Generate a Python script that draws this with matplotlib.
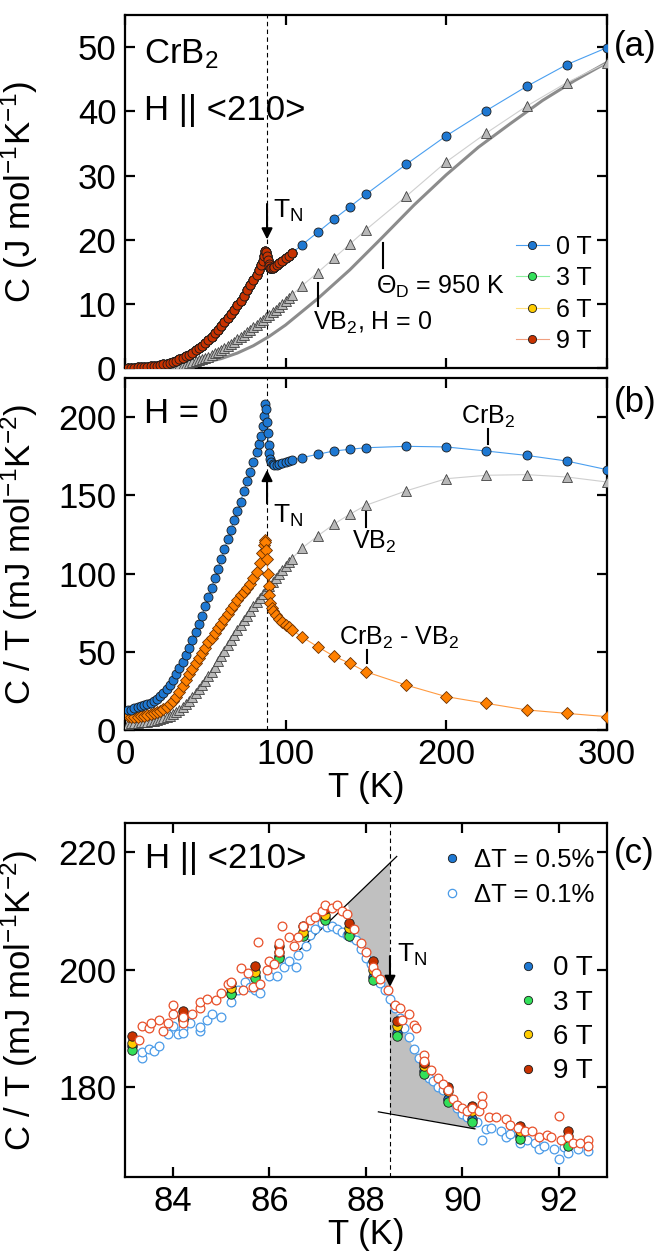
import numpy as np
import matplotlib
matplotlib.use("Agg")
import matplotlib.pyplot as plt
from matplotlib.lines import Line2D

plt.rcParams["font.family"] = ["Liberation Sans", "DejaVu Sans"]
plt.rcParams["mathtext.fontset"] = "custom"
plt.rcParams["mathtext.rm"] = "Liberation Sans"
plt.rcParams["mathtext.it"] = "Liberation Sans:italic"
plt.rcParams["mathtext.bf"] = "Liberation Sans:bold"

# ---- panel (b) data: C/T in mJ mol^-1 K^-2, H = 0 ----
T_cr = np.array([2, 4, 6, 8, 10, 12, 14, 16, 18, 20,
                 22, 24, 26, 28, 30, 32, 34, 36, 38, 40,
                 42, 44, 46, 48, 50, 52, 54, 56, 58, 60,
                 62, 64, 66, 68, 70, 72, 74, 76, 78, 80,
                 82, 83.5, 85, 86, 86.8, 87.4, 87.9, 88.5, 88.9, 89.5,
                 89.9, 90.4, 91, 92, 93, 94.5, 96, 98, 100, 102,
                 104, 110, 120, 130, 140, 150, 175, 200, 225, 250,
                 275, 300])
CT_cr = np.array([12.5, 13, 13.8, 14.5, 15.2, 15.8, 16.5, 17.3, 18.3, 19.8,
                  21.5, 23.5, 26, 29, 32, 35.5, 39.5, 43.5, 48, 52.5,
                  57.5, 62.5, 67.5, 73, 79, 85, 91, 97, 103, 109,
                  115.5, 122, 128, 134, 140, 146, 152.5, 159, 165, 171,
                  177.5, 182.5, 188, 194, 201, 208.5, 205, 197, 190, 182,
                  177, 173, 171, 170, 169.6, 169.5, 170, 170.5, 171, 171.8,
                  172.3, 174, 176.2, 178.3, 179.4, 180.4, 181.3, 180.9, 178.3, 175.5,
                  171.9, 166.4])

T_vb = np.array([2, 4, 6, 8, 10, 12, 14, 16, 18, 20,
                 22, 24, 26, 28, 30, 32, 34, 36, 38, 40,
                 42, 44, 46, 48, 50, 52, 54, 56, 58, 60,
                 62, 64, 66, 68, 70, 72, 74, 76, 78, 80,
                 82, 84, 86, 88, 90, 92, 94, 96, 98, 100,
                 102, 104, 110, 120, 130, 140, 150, 175, 200, 225,
                 250, 275, 300])
CT_vb = np.array([4.0, 4.2, 4.4, 4.6, 4.8, 5.0, 5.3, 5.6, 6.0, 6.4,
                  6.9, 7.4, 8.1, 9.0, 10.0, 11.3, 12.8, 14.5, 16.5, 18.7,
                  21.0, 23.5, 26.0, 28.8, 31.5, 34.3, 37.2, 40.5, 43.8, 47.0,
                  50.5, 54.0, 57.3, 60.5, 63.7, 67.0, 70.0, 73.0, 76.0, 79.0,
                  82.0, 84.5, 87.0, 89.5, 92.0, 94.5, 97.0, 99.8, 102.5, 105.0,
                  107.5, 109.5, 116.0, 124.0, 131.5, 137.9, 143.6, 152.8, 160.6, 162.8,
                  163.2, 161.7, 158.5])

T_diff = np.array([2, 4, 6, 8, 10, 12, 14, 16, 18, 20,
                   22, 24, 26, 28, 30, 32, 34, 36, 38, 40,
                   42, 44, 46, 48, 50, 52, 54, 56, 58, 60,
                   62, 64, 66, 68, 70, 72, 74, 76, 78, 80,
                   82, 84, 85.5, 86.3, 87.0, 87.5, 88.0, 88.5, 89.0, 89.5,
                   90.0, 90.6, 91.5, 92.5, 94, 96, 98, 100, 102, 104,
                   110, 120, 130, 140, 150, 175, 200, 225, 250, 275,
                   300])
CT_diff = np.array([9.0, 8.5, 8.3, 8.5, 8.8, 9.2, 9.6, 10.1, 10.7, 11.5,
                    12.4, 13.5, 14.9, 16.5, 18.5, 21.0, 24.5, 28.3, 32.0, 35.5,
                    39.0, 42.5, 46.0, 49.5, 52.5, 56.0, 59.0, 62.0, 65.0, 68.0,
                    71.0, 74.0, 77.0, 80.0, 83.0, 86.0, 88.5, 91.0, 93.5, 97.0,
                    101.0, 107.0, 113.0, 118.0, 121.5, 120.0, 115.0, 109.0, 100.0, 92.0,
                    86.0, 81.0, 78.0, 76.0, 73.5, 71.0, 69.0, 67.3, 65.5, 64.0,
                    59.6, 53.2, 47.2, 42.6, 37.2, 28.7, 21.3, 17.0, 12.8, 10.6,
                    8.5])

# ---- panel (a): C in J mol^-1 K^-1 (same measurements, C = T * C/T) ----
C_cr = T_cr * CT_cr / 1000.0
C_vb = T_vb * CT_vb / 1000.0
low = T_cr <= 105          # fields 3, 6, 9 T measured only around T_N

# Debye curve for VB2, Theta_D = 950 K
T_deb = [0, 10, 20, 30, 40, 50, 60, 70, 80, 90, 100, 120, 140, 160, 180,
         200, 220, 240, 260, 280, 300]
C_deb = [0, 0.01, 0.05, 0.18, 0.44, 0.85, 1.47, 2.33, 3.48, 4.96, 6.7, 10.8,
         15.3, 20.3, 25.4, 30.1, 34.4, 38.1, 41.7, 44.8, 47.6]

T_N = 88.5

# ---- panel (c): C/T near T_N ----
T_step = [83.15, 84.2, 85.2, 85.7, 86.2, 86.7, 87.15, 87.65, 88.15, 88.65,
          89.2, 89.7, 90.2, 91.2, 92.2]
ct_0T = [187.0, 191.8, 196.0, 198.9, 202.3, 206.0, 208.8, 206.2, 198.8, 189.2,
         182.7, 178.0, 174.6, 171.6, 170.5]
ct_3T = [186.4, 191.5, 195.8, 198.6, 202.0, 205.7, 208.5, 205.8, 198.3, 188.7,
         182.2, 177.4, 174.0, 171.1, 170.0]
ct_6T = [187.6, 192.1, 196.9, 199.7, 203.1, 206.5, 209.3, 207.1, 200.0, 190.4,
         183.6, 179.3, 175.9, 172.5, 171.7]
ct_9T = [188.7, 192.9, 197.8, 200.6, 204.0, 207.5, 210.3, 208.0, 201.5, 191.2,
         184.1, 180.0, 176.8, 173.4, 172.6]

T_fine0 = [83.35, 83.35, 83.5, 83.6, 83.7, 83.9, 84.0, 84.1, 84.2, 84.2,
           84.35, 84.55, 84.55, 84.7, 84.8, 85.0, 85.2, 85.35, 85.5, 85.6,
           85.7, 85.8, 86.0, 86.15, 86.3, 86.4, 86.55, 86.6, 86.75, 86.85,
           86.95, 87.1, 87.2, 87.3, 87.4, 87.5, 87.6, 87.7, 87.8, 87.9,
           88.0, 88.1, 88.2, 88.3, 88.4, 88.5, 88.6, 88.7, 88.8, 88.9,
           89.0, 89.1, 89.2, 89.3, 89.4, 89.5, 89.6, 89.7, 89.8, 89.9,
           90.0, 90.1, 90.3, 90.4, 90.5, 90.6, 90.8, 90.9, 91.0, 91.2,
           91.35, 91.5, 91.6, 91.7, 91.9, 92.0, 92.1, 92.2, 92.4, 92.6]
ct_fine0 = [185.0, 186.0, 186.5, 186.2, 187.0, 189.0, 190.5, 189.0, 190.0, 189.2,
            191.0, 189.5, 190.2, 191.5, 192.5, 192.0, 194.5, 196.5, 198.0, 197.0,
            196.5, 196.0, 199.0, 199.0, 200.5, 201.5, 200.5, 202.5, 204.0, 206.0,
            207.0, 208.0, 207.3, 207.5, 207.0, 206.5, 206.0, 205.5, 205.0, 203.5,
            202.0, 201.0, 199.5, 197.8, 196.5, 195.0, 193.5, 191.8, 190.0, 188.5,
            186.5, 185.0, 183.5, 181.5, 181.0, 180.0, 179.5, 178.0, 177.5, 176.5,
            175.5, 175.0, 174.0, 171.0, 172.8, 173.0, 172.5, 171.5, 172.0, 170.5,
            171.0, 170.5, 169.5, 170.0, 169.5, 167.7, 169.8, 168.8, 169.5, 169.2]

T_fine9 = [83.3, 83.35, 83.5, 83.55, 83.7, 83.8, 83.9, 84.0, 84.0, 84.2,
           84.2, 84.4, 84.55, 84.55, 84.7, 84.9, 85.0, 85.15, 85.2, 85.4,
           85.45, 85.55, 85.65, 85.77, 85.8, 85.95, 86.0, 86.1, 86.2, 86.2,
           86.25, 86.4, 86.5, 86.6, 86.7, 86.85, 86.95, 87.1, 87.15, 87.3,
           87.4, 87.5, 87.6, 87.75, 87.9, 88.0, 88.15, 88.2, 88.3, 88.45,
           88.6, 88.7, 88.75, 88.9, 89.0, 89.05, 89.2, 89.2, 89.35, 89.5,
           89.6, 89.7, 89.8, 89.9, 90.0, 90.1, 90.2, 90.35, 90.4, 90.4,
           90.55, 90.7, 90.9, 91.0, 91.15, 91.3, 91.45, 91.6, 91.75, 91.85,
           92.0, 92.05, 92.2, 92.3, 92.45, 92.6, 92.6]
ct_fine9 = [188.0, 190.5, 190.0, 191.0, 191.5, 189.5, 191.0, 192.5, 194.0, 191.0,
            192.0, 192.5, 193.5, 194.5, 195.0, 194.8, 196.0, 197.5, 198.0, 200.3,
            196.5, 199.5, 197.0, 204.8, 197.5, 200.0, 201.5, 201.0, 203.0, 204.5,
            207.5, 205.5, 204.0, 205.5, 207.5, 208.5, 209.0, 210.0, 211.0, 210.5,
            211.0, 210.0, 209.5, 207.0, 204.5, 203.0, 200.5, 199.5, 198.5, 196.5,
            194.0, 193.5, 191.5, 192.5, 190.6, 190.0, 185.5, 184.5, 183.0, 181.5,
            180.5, 179.5, 178.0, 177.0, 176.5, 176.0, 176.5, 176.0, 178.5, 177.2,
            175.0, 175.0, 174.5, 173.5, 173.0, 172.5, 172.5, 171.5, 171.8, 171.5,
            175.1, 171.0, 171.5, 170.5, 170.5, 171.0, 170.0]

# equal-entropy construction
upper_T, upper_ct = [86.63, 88.64], [203.4, 219.3]
lower_T, lower_ct = [88.26, 90.26], [175.8, 172.9]
shade_T = [87.62, 88.5, 88.5, 90.3, 90.0, 89.6, 89.3, 89.0, 88.7, 88.5, 88.3, 88.0, 87.8]
shade_ct = [211.2, 218.2, 175.6, 172.8, 176.0, 179.5, 182.0, 186.5, 191.0, 196.0, 199.0, 203.0, 206.5]

# colours
BLUE = "#1e78d2"
GREEN = "#33e05a"
YELLOW = "#ffcc00"
RED = "#c83200"
GRAY = "#b8b8b8"
ORANGE = "#ff8000"
EDGE = "#1a1a1a"

fig = plt.figure(figsize=(6.64, 12.54), dpi=100)
ax_a = fig.add_axes([0.188, 0.7065, 0.726, 0.2815])
ax_b = fig.add_axes([0.188, 0.4179, 0.726, 0.2807])
ax_c = fig.add_axes([0.188, 0.0614, 0.726, 0.2823])


def style(ax):
    for s in ax.spines.values():
        s.set_linewidth(1.6)
    ax.tick_params(direction="in", length=7, width=1.6, labelsize=25,
                   top=True, right=True, pad=6)


mk = dict(ms=6.5, mew=0.6, mec=EDGE)

# ---------------- (a) ----------------
ax_a.plot(T_deb, C_deb, color="#8c8c8c", lw=2.2, zorder=2)
ax_a.plot(T_vb, C_vb, "-^", color="#cfcfcf", lw=0.8, mfc=GRAY, zorder=3,
          ms=7, mew=0.6, mec="#404040")
l0, = ax_a.plot(T_cr, C_cr, "-o", color="#4a9ff0", lw=0.8, mfc=BLUE, zorder=4, **mk)
l3, = ax_a.plot(T_cr[low], C_cr[low], "-o", color="#8ff0a0", lw=0.8, mfc=GREEN, zorder=4, **mk)
l6, = ax_a.plot(T_cr[low], C_cr[low], "-o", color="#ffe080", lw=0.8, mfc=YELLOW, zorder=4, **mk)
l9, = ax_a.plot(T_cr[low], C_cr[low], "-o", color="#f0a080", lw=0.8, mfc=RED, zorder=5, **mk)
ax_a.axvline(T_N, color="k", lw=0.8, ls=(0, (4, 3)), zorder=1)
ax_a.set_xlim(0, 300)
ax_a.set_ylim(0, 55)
ax_a.set_xticks([0, 100, 200, 300])
ax_a.set_xticklabels([])
ax_a.set_yticks([0, 10, 20, 30, 40, 50])
style(ax_a)
ax_a.set_ylabel("C (J mol$^{-1}$K$^{-1}$)", fontsize=25)
ax_a.yaxis.set_label_coords(-0.175, 0.5)
ax_a.legend([l0, l3, l6, l9], ["0 T", "3 T", "6 T", "9 T"], loc="lower right",
            frameon=False, fontsize=18, handlelength=1.3, handletextpad=0.3,
            labelspacing=0.3, borderaxespad=0.2, markerscale=0.9)
ax_a.text(0.04, 0.89, "CrB$_2$", transform=ax_a.transAxes, fontsize=25, va="center")
ax_a.text(0.04, 0.73, "H || <210>", transform=ax_a.transAxes, fontsize=25, va="center")
ax_a.text(1.015, 0.91, "(a)", transform=ax_a.transAxes, fontsize=25, va="center")
ax_a.annotate("", xy=(T_N, 19.6), xytext=(T_N, 26.0),
              arrowprops=dict(arrowstyle="-|>", color="k", lw=1.5, mutation_scale=16))
ax_a.text(92, 24.5, "T$_\\mathrm{N}$", fontsize=19, va="center")
ax_a.plot([160.5, 160.5], [15.6, 19.5], color="k", lw=1.5)
ax_a.text(156, 12.6, "Θ$_\\mathrm{D}$ = 950 K", fontsize=18, va="center")
ax_a.plot([120.3, 120.3], [9.6, 13.3], color="k", lw=1.5)
ax_a.text(117, 7.0, "VB$_2$, H = 0", fontsize=18, va="center")

# ---------------- (b) ----------------
ax_b.plot(T_vb, CT_vb, "-^", color="#cfcfcf", lw=0.8, mfc=GRAY, zorder=3,
          ms=7, mew=0.6, mec="#404040")
ax_b.plot(T_diff, CT_diff, "-D", color="#ff9a40", lw=0.8, mfc=ORANGE, zorder=4,
          ms=6, mew=0.6, mec="#6a3000")
ax_b.plot(T_cr, CT_cr, "-o", color="#4a9ff0", lw=0.8, mfc=BLUE, zorder=5, **mk)
ax_b.axvline(T_N, color="k", lw=0.8, ls=(0, (4, 3)), zorder=1)
ax_b.set_xlim(0, 300)
ax_b.set_ylim(0, 225)
ax_b.set_xticks([0, 100, 200, 300])
ax_b.set_yticks([0, 50, 100, 150, 200])
style(ax_b)
ax_b.set_ylabel("C / T (mJ mol$^{-1}$K$^{-2}$)", fontsize=25)
ax_b.yaxis.set_label_coords(-0.175, 0.5)
ax_b.set_xlabel("T (K)", fontsize=25, labelpad=0)
ax_b.text(0.04, 0.90, "H = 0", transform=ax_b.transAxes, fontsize=25, va="center")
ax_b.text(1.015, 0.93, "(b)", transform=ax_b.transAxes, fontsize=25, va="center")
ax_b.annotate("", xy=(T_N, 168), xytext=(T_N, 143),
              arrowprops=dict(arrowstyle="-|>", color="k", lw=1.5, mutation_scale=16))
ax_b.text(92, 137, "T$_\\mathrm{N}$", fontsize=19, va="center")
ax_b.plot([225.7, 225.7], [183, 192.5], color="k", lw=1.5)
ax_b.text(226, 200, "CrB$_2$", fontsize=18, ha="center", va="center")
ax_b.plot([150.3, 150.3], [130, 139], color="k", lw=1.5)
ax_b.text(155, 120, "VB$_2$", fontsize=18, ha="center", va="center")
ax_b.plot([150.8, 150.8], [42.6, 51], color="k", lw=1.5)
ax_b.text(171, 59, "CrB$_2$ - VB$_2$", fontsize=18, ha="center", va="center")

# ---------------- (c) ----------------
ax_c.fill(shade_T, shade_ct, color="#c0c0c0", lw=0, zorder=1)
ax_c.plot(upper_T, upper_ct, color="k", lw=0.9, zorder=2)
ax_c.plot(lower_T, lower_ct, color="k", lw=0.9, zorder=2)
ax_c.axvline(T_N, color="k", lw=0.8, ls=(0, (4, 3)), zorder=2)
ax_c.plot(T_fine0, ct_fine0, "o", ms=6.3, mfc="white", mec="#4a9be8", mew=0.9, zorder=3)
for vals, col in [(ct_0T, BLUE), (ct_3T, GREEN), (ct_6T, YELLOW), (ct_9T, RED)]:
    ax_c.plot(T_step, vals, "o", ms=6.8, mfc=col, mec=EDGE, mew=0.6, zorder=4)
ax_c.plot(T_fine9, ct_fine9, "o", ms=6.3, mfc="white", mec="#e8502a", mew=0.9, zorder=5)
ax_c.annotate("", xy=(T_N, 196.6), xytext=(T_N, 202.8),
              arrowprops=dict(arrowstyle="-|>", color="k", lw=1.5, mutation_scale=16), zorder=6)
ax_c.text(88.65, 202.6, "T$_\\mathrm{N}$", fontsize=19, va="center")
ax_c.set_xlim(83, 93)
ax_c.set_ylim(164.7, 225)
ax_c.set_xticks([84, 86, 88, 90, 92])
ax_c.set_yticks([180, 200, 220])
style(ax_c)
ax_c.set_ylabel("C / T (mJ mol$^{-1}$K$^{-2}$)", fontsize=25)
ax_c.yaxis.set_label_coords(-0.175, 0.5)
ax_c.set_xlabel("T (K)", fontsize=25, labelpad=0)
ax_c.text(0.042, 0.90, "H || <210>", transform=ax_c.transAxes, fontsize=25, va="center")
ax_c.text(1.015, 0.915, "(c)", transform=ax_c.transAxes, fontsize=25, va="center")

h_05 = Line2D([], [], ls="", marker="o", ms=6, mfc=BLUE, mec=EDGE, mew=0.6)
h_01 = Line2D([], [], ls="", marker="o", ms=6, mfc="white", mec="#4a9be8", mew=0.9)
leg1 = ax_c.legend([h_05, h_01], ["ΔT = 0.5%", "ΔT = 0.1%"], loc="upper right",
                   bbox_to_anchor=(1.0, 0.965), frameon=False, fontsize=18.5,
                   handlelength=0.8, handletextpad=0.45, labelspacing=0.4,
                   borderaxespad=0.1)
ax_c.add_artist(leg1)
h_f = [Line2D([], [], ls="", marker="o", ms=6, mfc=c, mec=EDGE, mew=0.6)
       for c in (BLUE, GREEN, YELLOW, RED)]
ax_c.legend(h_f, ["0 T", "3 T", "6 T", "9 T"], loc="upper right",
            bbox_to_anchor=(1.0, 0.665), frameon=False, fontsize=20,
            handlelength=0.8, handletextpad=0.5, labelspacing=0.3, borderaxespad=0.1)

fig.savefig("out.png", dpi=100)
